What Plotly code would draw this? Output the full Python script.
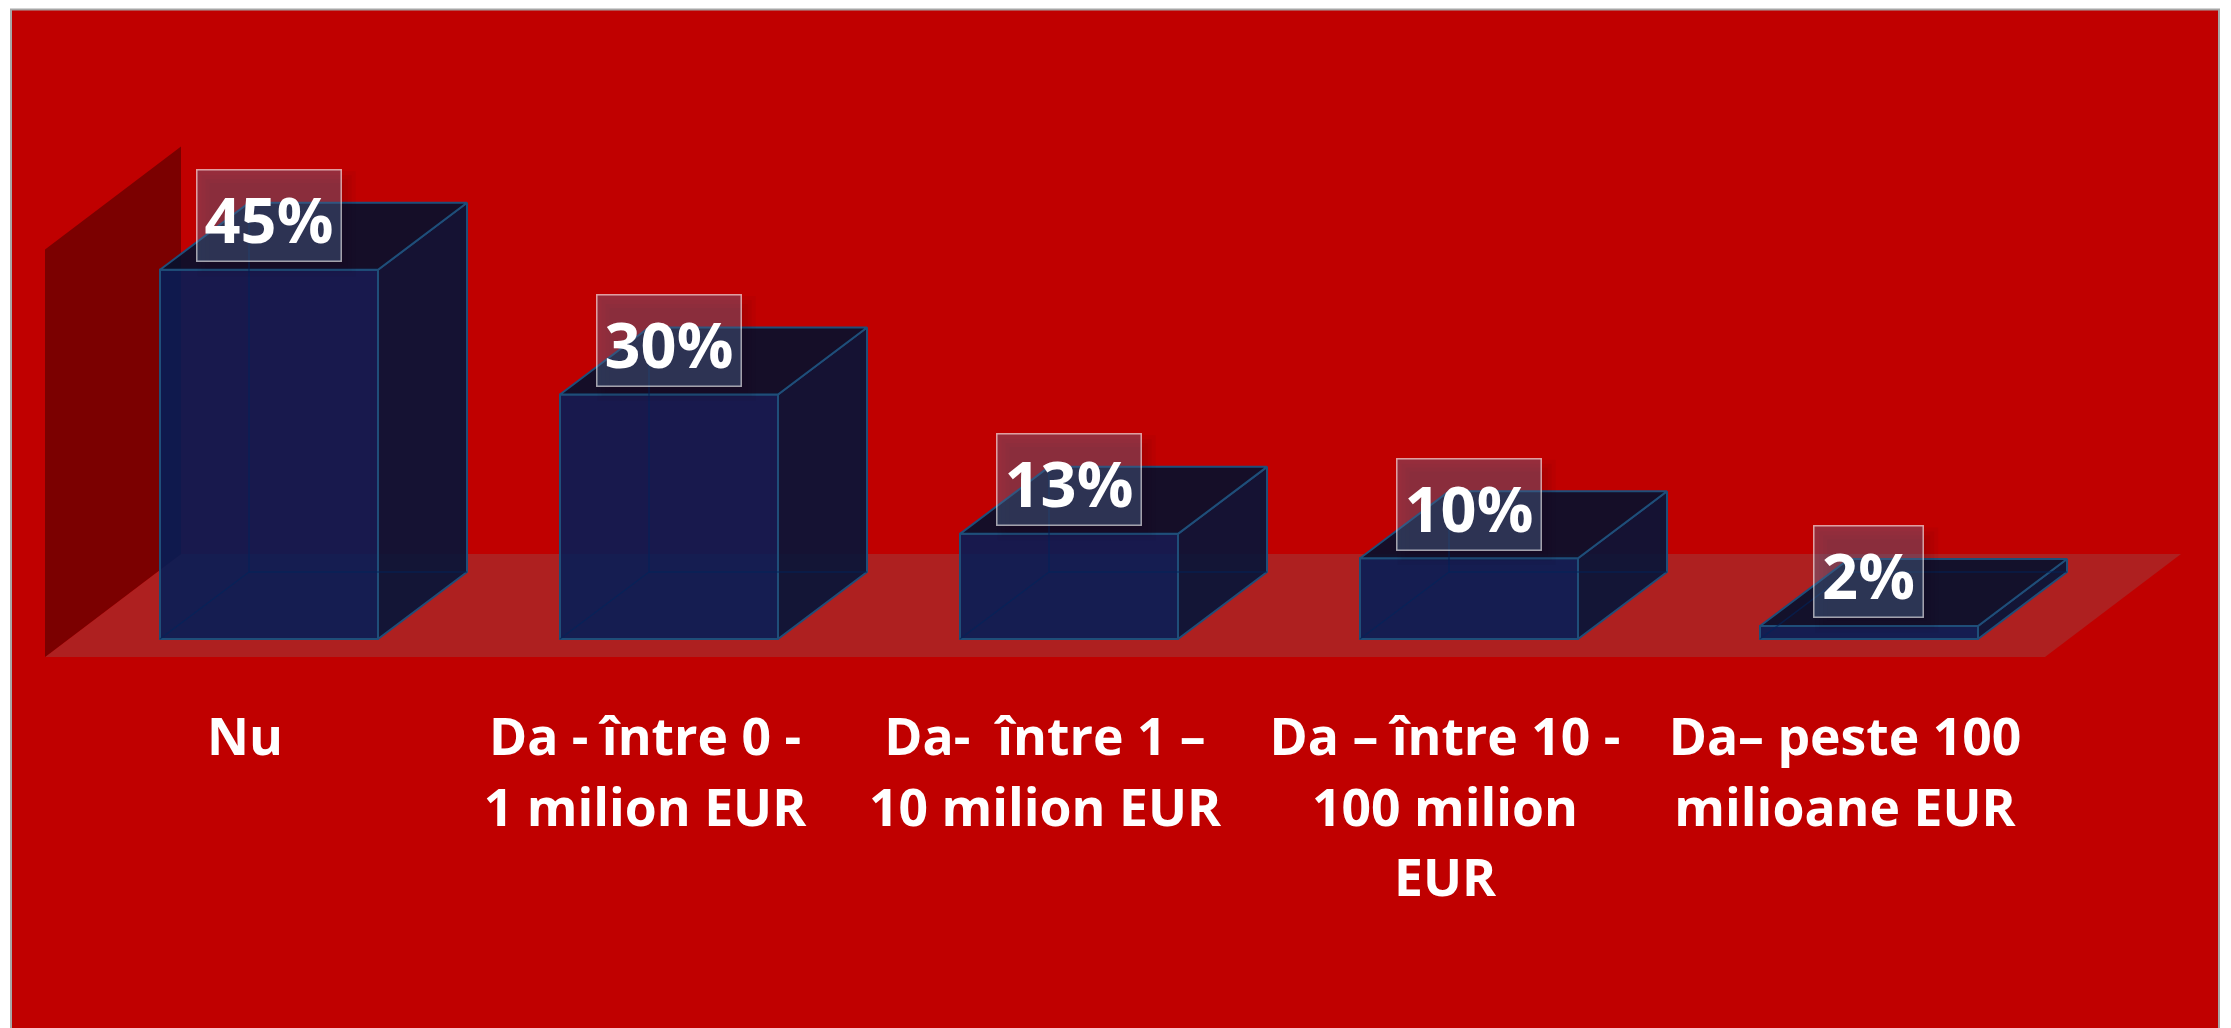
import plotly.graph_objects as go

# ---- data ----
categories = ["Nu", "Da - între 0 -<br>1 milion EUR", "Da-\u00a0 între 1 –<br>10 milion EUR",
              "Da – între 10 -<br>100 milion<br>EUR", "Da– peste 100<br>milioane EUR"]
values = [45.3, 30.0, 12.9, 9.9, 1.6]
value_labels = ["45%", "30%", "13%", "10%", "2%"]

# ---- styles ----
FONT = "Open Sans"
BG = "#C00000"; WALL = "#7B0000"; FLOOR = "#AE2020"
FRONT = "rgba(0,28,88,0.88)"; SIDE = "rgba(2,20,56,0.90)"; TOP = "rgba(2,16,44,0.90)"
EDGE = "#1F4E79"; BACK_EDGE = "rgba(0,36,92,0.6)"

W, H = 2231, 1028
PX_X = 400.0   # pixels per category step
PX_Y = 8.15    # pixels per percent
X0_PX, BASE_PX, FLOOR_PX = 269.0, 639.0, 657.0

bar_w = 218 / PX_X
dx, dy = 89 / PX_X, 67 / PX_Y
xs = list(range(len(values)))
floor_y = -(FLOOR_PX - BASE_PX) / PX_Y
fl, fr = (45 - X0_PX) / PX_X, (2045 - X0_PX) / PX_X
fdx, fdy = 136 / PX_X, 103 / PX_Y
wall_h = 50.0

def poly(pts):
    return "M " + " L ".join(f"{a},{b}" for a, b in pts) + " Z"

shapes = [
    dict(type="rect", xref="paper", yref="paper", x0=11 / W, x1=2219 / W, y0=-(H - FLOOR_PX) / (FLOOR_PX) - 0.1,
         y1=1 - 6 / FLOOR_PX, fillcolor=BG, line=dict(color="#A6A6A6", width=2), layer="below"),
    dict(type="path", xref="x", yref="y", layer="below", line_width=0, fillcolor=FLOOR,
         path=poly([(fl, floor_y), (fr, floor_y), (fr + fdx, floor_y + fdy), (fl + fdx, floor_y + fdy)])),
    dict(type="path", xref="x", yref="y", layer="below", line_width=0, fillcolor=WALL,
         path=poly([(fl, floor_y), (fl + fdx, floor_y + fdy), (fl + fdx, floor_y + fdy + wall_h), (fl, floor_y + wall_h)])),
]

fig = go.Figure()

# back edges and faces, behind the translucent front
for x, v in zip(xs, values):
    l, r = x - bar_w / 2, x + bar_w / 2
    fig.add_trace(go.Scatter(x=[r, r + dx, r + dx, r, r], y=[0, dy, v + dy, v, 0], mode="lines", fill="toself",
                             fillcolor=SIDE, line=dict(color=EDGE, width=2), hoverinfo="skip", showlegend=False))
    fig.add_trace(go.Scatter(x=[l, r, r + dx, l + dx, l], y=[v, v, v + dy, v + dy, v], mode="lines", fill="toself",
                             fillcolor=TOP, line=dict(color=EDGE, width=2), hoverinfo="skip", showlegend=False))
    fig.add_trace(go.Scatter(x=[l, l + dx, l + dx, None, l + dx, r + dx], y=[0, dy, v + dy, None, dy, dy], mode="lines",
                             line=dict(color=BACK_EDGE, width=1.5), hoverinfo="skip", showlegend=False))

fig.add_trace(go.Bar(x=xs, y=values, width=bar_w, marker=dict(color=FRONT, line=dict(color=EDGE, width=2)),
                     hoverinfo="skip", showlegend=False))

# glass labels with a soft shadow
annotations = []
box_h = 93 / PX_Y
for x, v, t in zip(xs, values, value_labels):
    box_w = (40 + 35 * len(t) + 1) / PX_X
    cx = x - 0.3 / PX_X
    cy = v + 54 / PX_Y
    for grow, in [(-6,), (-2,), (2,), (6,)]:
        shapes.append(dict(type="rect", xref="x", yref="y", layer="above", line_width=0,
                           fillcolor="rgba(20,0,20,0.04)",
                           x0=cx - box_w / 2 + (8 - grow) / PX_X, x1=cx + box_w / 2 + (8 + grow) / PX_X,
                           y0=cy - box_h / 2 - (8 + grow) / PX_Y, y1=cy + box_h / 2 - (8 - grow) / PX_Y))
    annotations.append(dict(x=cx, y=cy, xref="x", yref="y", text=f"<b>{t}</b>", showarrow=False,
                            width=box_w * PX_X - 3, height=90, align="center", valign="bottom",
                            font=dict(family=FONT, size=63, color="white"),
                            bgcolor="rgba(90,125,165,0.36)", bordercolor="rgba(255,255,255,0.6)", borderwidth=1.5,
                            borderpad=0))

fig.update_layout(
    width=W, height=H, margin=dict(l=0, r=0, t=0, b=0, pad=0), autosize=False,
    paper_bgcolor="white", plot_bgcolor="rgba(0,0,0,0)", barmode="overlay", showlegend=False,
    shapes=shapes, annotations=annotations,
    xaxis=dict(range=[-X0_PX / PX_X, (W - X0_PX) / PX_X], domain=[0, 1], showgrid=False, zeroline=False,
               showline=False, tickmode="array", tickvals=[x - 24 / PX_X for x in xs],
               ticktext=['<span style="font-size:51.7px"><b>' + c.replace("<br>", "</b></span><br><span style=\"font-size:51.7px\"><b>") + "</b></span>"
                         for c in categories], tickangle=0, ticks="outside", ticklen=31,
               tickcolor="rgba(0,0,0,0)", tickfont=dict(family=FONT, size=54.6, color="white"), automargin=False),
    yaxis=dict(range=[floor_y, BASE_PX / PX_Y], domain=[(H - FLOOR_PX) / H, 1], visible=False, automargin=False),
)

fig.write_html("out.html", post_script="document.body.style.margin='0';document.body.style.overflow='hidden';",
               config=dict(displayModeBar=False))
